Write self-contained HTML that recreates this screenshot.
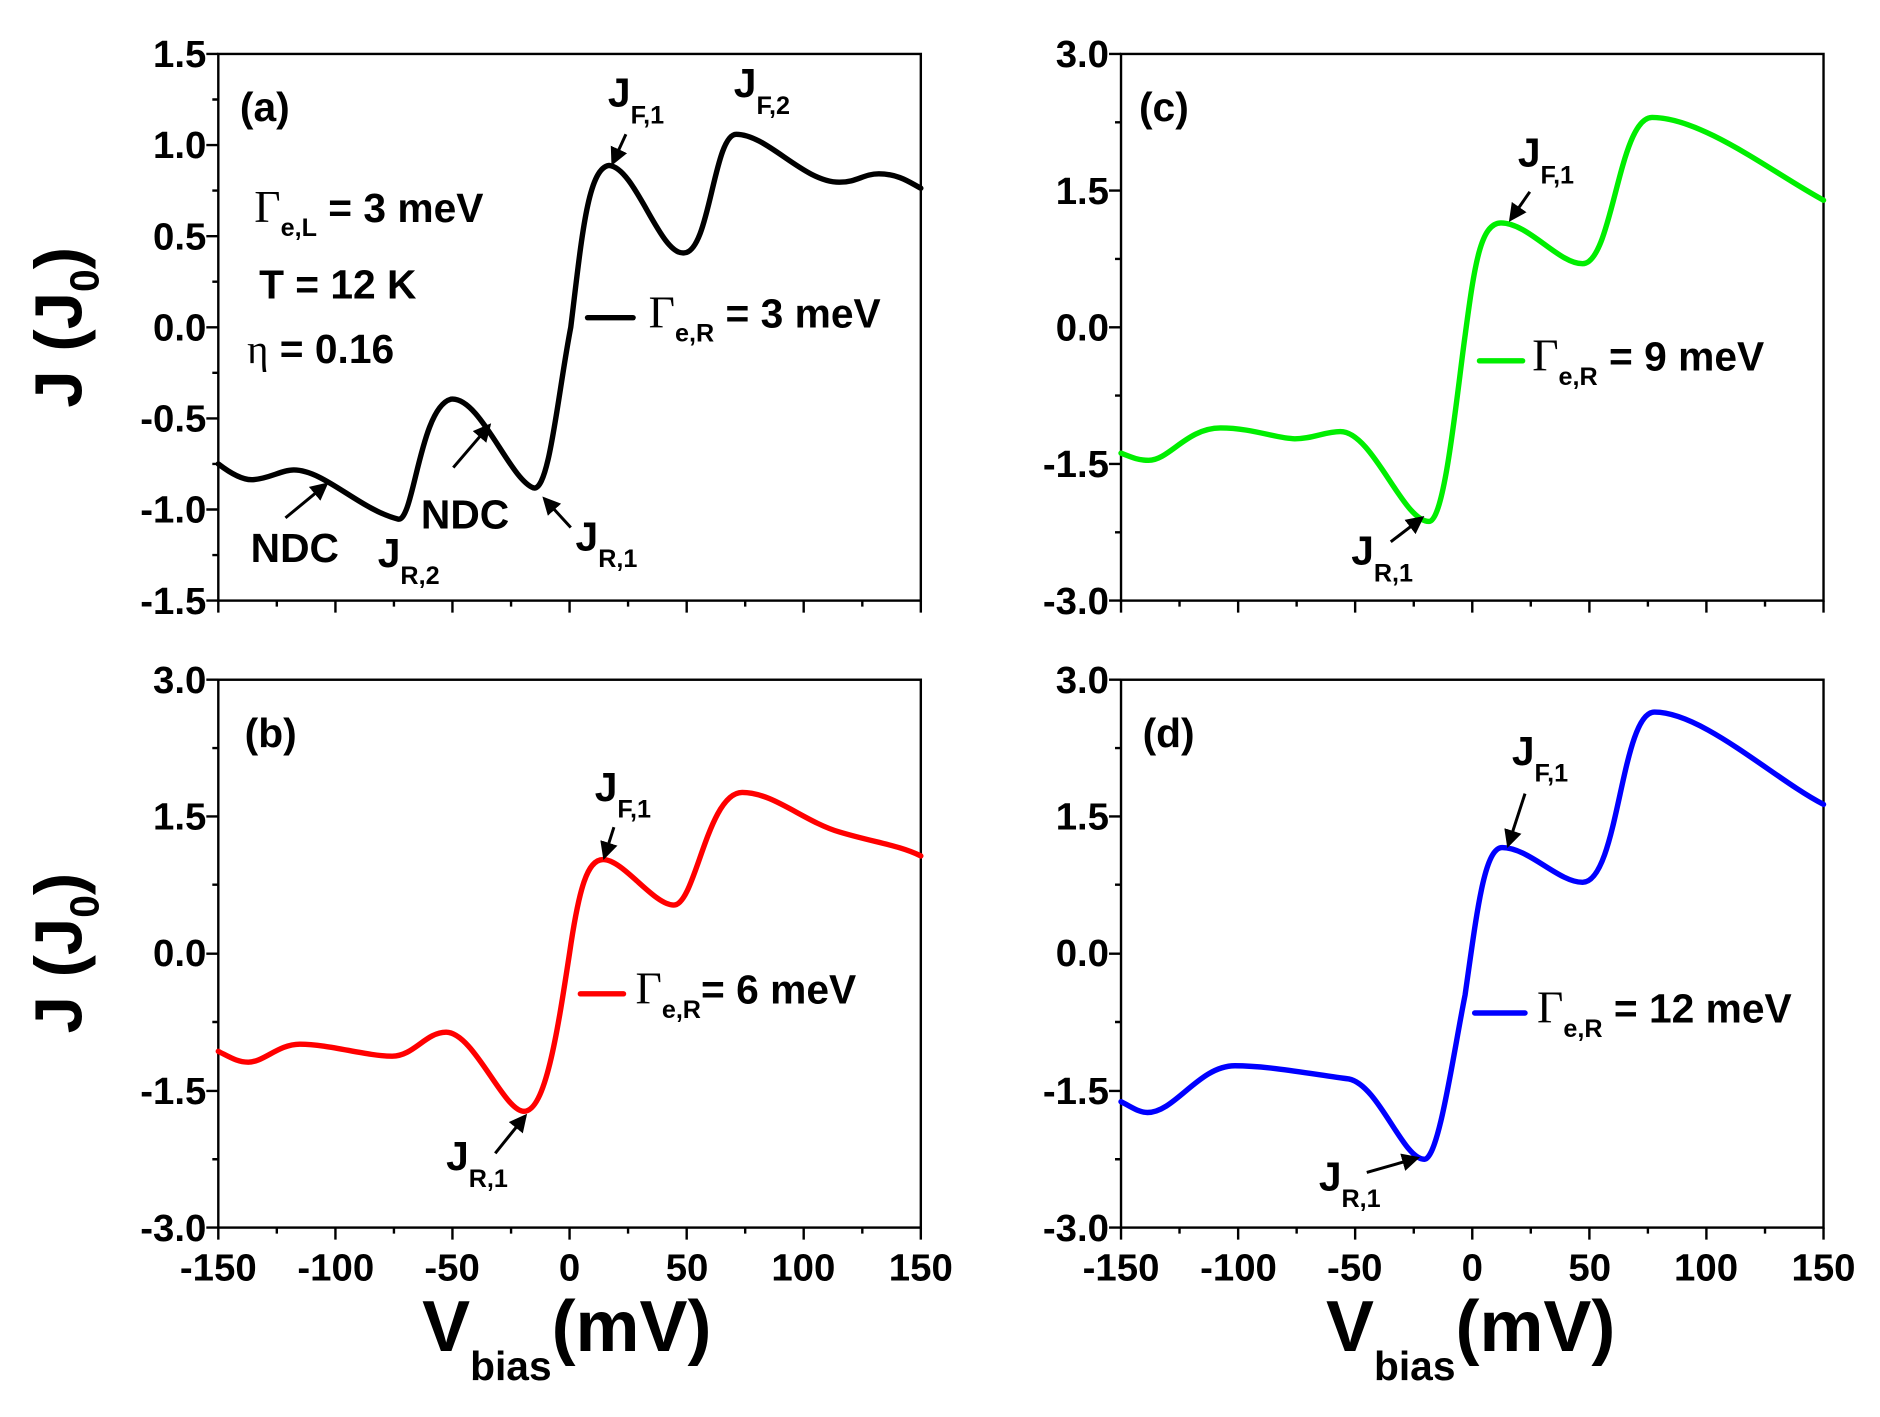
<!DOCTYPE html>
<html><head><meta charset="utf-8"><style>
html,body{margin:0;padding:0;background:#fff;}
svg{display:block;}
text{font-family:"Liberation Sans",Arial,sans-serif;font-weight:bold;fill:#000;}
.t{font-size:32px;}
.g{font-family:"Liberation Serif",serif;font-weight:normal;}
</style></head><body>
<svg width="1880" height="1417" viewBox="0 0 1568 1182" xmlns="http://www.w3.org/2000/svg">
<defs>
<marker id="ah" markerWidth="6" markerHeight="6" refX="5" refY="3" orient="auto" markerUnits="strokeWidth">
<path d="M0,0 L6,3 L0,6 z" fill="#000"/></marker>
</defs>
<g fill="none" stroke="#000" stroke-width="2">
<rect x="182" y="45" width="586" height="456"/>
<rect x="935" y="45" width="586" height="456"/>
<rect x="182" y="567" width="586" height="457"/>
<rect x="935" y="567" width="586" height="457"/>
<path d="M172,45h10M172,121h10M172,197h10M172,273h10M172,349h10M172,425h10M172,501h10M177,83h5M177,159h5M177,235h5M177,311h5M177,387h5M177,463h5"/>
<path d="M925,45h10M925,159h10M925,273h10M925,387h10M925,501h10M930,102h5M930,216h5M930,330h5M930,444h5"/>
<path d="M172,567h10M172,681h10M172,795.5h10M172,910h10M172,1024h10M177,624h5M177,738h5M177,852.5h5M177,967h5"/>
<path d="M925,567h10M925,681h10M925,795.5h10M925,910h10M925,1024h10M930,624h5M930,738h5M930,852.5h5M930,967h5"/>
<path d="M182,501v10M230.8,501v5M279.7,501v10M328.5,501v5M377.3,501v10M426.2,501v5M475,501v10M523.8,501v5M572.7,501v10M621.5,501v5M670.3,501v10M719.2,501v5M768,501v10"/>
<path d="M935,501v10M983.8,501v5M1032.7,501v10M1081.5,501v5M1130.3,501v10M1179.2,501v5M1228,501v10M1276.8,501v5M1325.7,501v10M1374.5,501v5M1423.3,501v10M1472.2,501v5M1521,501v10"/>
<path d="M182,1024v10M230.8,1024v5M279.7,1024v10M328.5,1024v5M377.3,1024v10M426.2,1024v5M475,1024v10M523.8,1024v5M572.7,1024v10M621.5,1024v5M670.3,1024v10M719.2,1024v5M768,1024v10"/>
<path d="M935,1024v10M983.8,1024v5M1032.7,1024v10M1081.5,1024v5M1130.3,1024v10M1179.2,1024v5M1228,1024v10M1276.8,1024v5M1325.7,1024v10M1374.5,1024v5M1423.3,1024v10M1472.2,1024v5M1521,1024v10"/>
</g>
<g class="t" text-anchor="end">
<text x="172" y="56">1.5</text><text x="172" y="132">1.0</text><text x="172" y="208">0.5</text>
<text x="172" y="284">0.0</text><text x="172" y="360">-0.5</text><text x="172" y="436">-1.0</text><text x="172" y="512">-1.5</text>
<text x="925" y="56">3.0</text><text x="925" y="170">1.5</text><text x="925" y="284">0.0</text><text x="925" y="398">-1.5</text><text x="925" y="512">-3.0</text>
<text x="172" y="578">3.0</text><text x="172" y="692">1.5</text><text x="172" y="806">0.0</text><text x="172" y="921">-1.5</text><text x="172" y="1035">-3.0</text>
<text x="925" y="578">3.0</text><text x="925" y="692">1.5</text><text x="925" y="806">0.0</text><text x="925" y="921">-1.5</text><text x="925" y="1035">-3.0</text>
</g>
<g class="t" text-anchor="middle">
<text x="182" y="1068">-150</text><text x="280" y="1068">-100</text><text x="377" y="1068">-50</text><text x="475" y="1068">0</text><text x="573" y="1068">50</text><text x="670" y="1068">100</text><text x="768" y="1068">150</text>
<text x="935" y="1068">-150</text><text x="1033" y="1068">-100</text><text x="1130" y="1068">-50</text><text x="1228" y="1068">0</text><text x="1326" y="1068">50</text><text x="1423" y="1068">100</text><text x="1521" y="1068">150</text>
</g>
<text transform="translate(68,273) rotate(-90)" text-anchor="middle" font-size="56">J (J<tspan font-size="34" dy="14">0</tspan><tspan dy="-14">)</tspan></text>
<text transform="translate(68,795) rotate(-90)" text-anchor="middle" font-size="56">J (J<tspan font-size="34" dy="14">0</tspan><tspan dy="-14">)</tspan></text>
<text x="352" y="1127" font-size="60">V<tspan font-size="34" dy="24">bias</tspan><tspan dy="-24">(mV)</tspan></text>
<text x="1106" y="1127" font-size="60">V<tspan font-size="34" dy="24">bias</tspan><tspan dy="-24">(mV)</tspan></text>
<g fill="none" stroke-width="4.5" stroke-linecap="round">
<path stroke="#000" d="M182,387 C195,397 205,401 212,400 C225,399 235,392 245,392 C270,392 300,425 332,433 C345,436 350,340 376,333 C400,330 425,400 445,407 C458,410 465,330 476,273 C485,200 490,140 508,138 C530,140 550,212 570,211 C592,212 595,112 614,112 C640,112 670,152 700,152 C715,152 720,145 733,145 C750,145 760,153 768,157"/>
<path stroke="#ff0000" d="M182,877 C192,882 198,886 207,886 C220,886 232,871 250,871 C275,871 305,881 327,881 C345,881 355,861 372,861 C395,861 420,927 437,927 C455,927 465,860 475,795 C483,740 490,717 503,717 C520,717 545,755 562,755 C580,755 590,661 619,661 C645,661 670,685 700,694 C730,703 750,705 768,714"/>
<path stroke="#00ee00" d="M935,378 C945,382 950,384 958,384 C975,384 990,357 1018,357 C1045,357 1065,366 1080,366 C1095,366 1105,360 1118,360 C1145,360 1170,435 1192,435 C1205,435 1215,330 1222,280 C1230,220 1235,186 1252,186 C1275,186 1300,220 1320,220 C1345,220 1350,98 1378,98 C1420,98 1480,145 1521,167"/>
<path stroke="#0000ff" d="M935,919 C945,924 950,928 957,928 C980,928 1000,889 1030,889 C1060,889 1100,897 1125,900 C1150,905 1170,967 1188,967 C1200,967 1212,880 1222,830 C1232,760 1238,707 1253,707 C1275,707 1300,736 1320,736 C1350,736 1352,594 1380,594 C1420,594 1480,650 1521,671"/>
<line x1="490" y1="265" x2="528" y2="265" stroke="#000"/>
<line x1="484" y1="829" x2="520" y2="829" stroke="#ff0000"/>
<line x1="1234" y1="301" x2="1270" y2="301" stroke="#00ee00"/>
<line x1="1230" y1="845" x2="1272" y2="845" stroke="#0000ff"/>
</g>
<g font-size="34">
<text x="541" y="273"><tspan class="g" font-size="38">Γ</tspan><tspan font-size="21" dy="12">e,R</tspan><tspan dy="-12"> = 3 meV</tspan></text>
<text x="530" y="837"><tspan class="g" font-size="38">Γ</tspan><tspan font-size="21" dy="12">e,R</tspan><tspan dy="-12">= 6 meV</tspan></text>
<text x="1278" y="309"><tspan class="g" font-size="38">Γ</tspan><tspan font-size="21" dy="12">e,R</tspan><tspan dy="-12"> = 9 meV</tspan></text>
<text x="1282" y="853"><tspan class="g" font-size="38">Γ</tspan><tspan font-size="21" dy="12">e,R</tspan><tspan dy="-12"> = 12 meV</tspan></text>
<text x="200" y="101">(a)</text><text x="204" y="623">(b)</text><text x="950" y="101">(c)</text><text x="953" y="623">(d)</text>
<text x="212" y="185"><tspan class="g" font-size="38">Γ</tspan><tspan font-size="21" dy="12">e,L</tspan><tspan dy="-12">  = 3 meV</tspan></text>
<text x="216" y="249">T = 12 K</text>
<text x="206" y="303"><tspan class="g">η</tspan> = 0.16</text>
<text x="209" y="469">NDC</text>
<text x="351" y="441">NDC</text>
<text x="315" y="473">J<tspan font-size="21" dy="14">R,2</tspan></text>
<text x="480" y="459">J<tspan font-size="21" dy="14">R,1</tspan></text>
<text x="507" y="89">J<tspan font-size="21" dy="14">F,1</tspan></text>
<text x="612" y="81">J<tspan font-size="21" dy="14">F,2</tspan></text>
<text x="496" y="668">J<tspan font-size="21" dy="14">F,1</tspan></text>
<text x="372" y="976">J<tspan font-size="21" dy="14">R,1</tspan></text>
<text x="1266" y="139">J<tspan font-size="21" dy="14">F,1</tspan></text>
<text x="1127" y="471">J<tspan font-size="21" dy="14">R,1</tspan></text>
<text x="1261" y="638">J<tspan font-size="21" dy="14">F,1</tspan></text>
<text x="1100" y="993">J<tspan font-size="21" dy="14">R,1</tspan></text>
</g>
<g stroke="#000" stroke-width="2.5" marker-end="url(#ah)">
<line x1="238" y1="432" x2="272" y2="404"/>
<line x1="378" y1="390" x2="408" y2="355"/>
<line x1="476" y1="440" x2="454" y2="416"/>
<line x1="522" y1="112" x2="511" y2="136"/>
<line x1="512" y1="690" x2="504" y2="715"/>
<line x1="413" y1="962" x2="438" y2="931"/>
<line x1="1276" y1="160" x2="1260" y2="183"/>
<line x1="1160" y1="452" x2="1186" y2="432"/>
<line x1="1272" y1="662" x2="1258" y2="705"/>
<line x1="1140" y1="978" x2="1182" y2="966"/>
</g>
</svg>
</body></html>
